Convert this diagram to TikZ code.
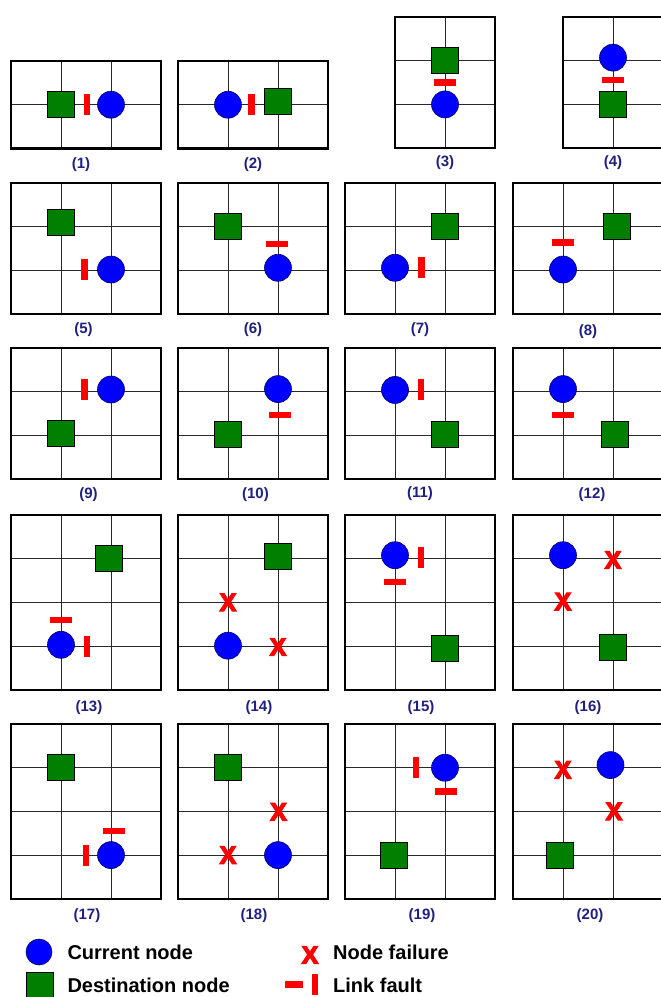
\documentclass[tikz,border=0pt]{standalone}
\usepackage{fontspec}
\setmainfont{Liberation Sans}
\newfontfamily\failfont{Liberation Sans Bold}[FakeBold=5]
\usetikzlibrary{positioning}
\definecolor{nodeblue}{HTML}{0000FF}
\definecolor{destgreen}{HTML}{007F00}
\definecolor{faultred}{HTML}{FF0000}
\definecolor{labelnavy}{HTML}{202080}
\definecolor{gridgray}{HTML}{2A2A2A}

\begin{document}
\begin{tikzpicture}[
    x=1pt, y=-1pt,
    panel/.style={draw=black, line width=2.4pt},
    gridln/.style={draw=gridgray, line width=0.9pt},
    cur/.style={circle, draw=black!60!blue, line width=0.6pt, fill=nodeblue,
      minimum size=27pt, inner sep=0pt},
    dest/.style={rectangle, draw=black, line width=0.6pt, fill=destgreen,
      minimum width=27pt, minimum height=26pt, inner sep=0pt},
    vfault/.style={rectangle, fill=faultred, minimum width=6.5pt, minimum height=21pt, inner sep=0pt},
    hfault/.style={rectangle, fill=faultred, minimum width=22pt, minimum height=6.5pt, inner sep=0pt},
    nfail/.style={text=faultred, font=\failfont\fontsize{25}{25}\selectfont, inner sep=0pt},
    num/.style={font=\bfseries\fontsize{15}{15}\selectfont, text=labelnavy, inner sep=0pt},
    legtext/.style={font=\bfseries\fontsize{20}{20}\selectfont, anchor=west, inner sep=0pt},
  ]
  \useasboundingbox (0,0) rectangle (661,997);

  % =================== ROW 1 ===================
  % (1)
  \begin{scope}[shift={(11,61)}, x=50pt, y=-43.7pt]
    \draw[gridln] (1,0) -- (1,2) (2,0) -- (2,2) (0,1) -- (3,1);
    \draw[panel] (0,0) rectangle (3,2);
    \node[dest] (d1) at (1,1) {};
    \node[vfault] (lf1) at (1.52,1) {};
    \node[cur] (c1) at (2,1) {};
    \node[num] (n1) at (1.4,2.38) {(1)};
  \end{scope}
  % (2)
  \begin{scope}[shift={(178,61)}, x=50pt, y=-43.7pt]
    \draw[gridln] (1,0) -- (1,2) (2,0) -- (2,2) (0,1) -- (3,1);
    \draw[panel] (0,0) rectangle (3,2);
    \node[cur] (c2) at (1,1) {};
    \node[vfault] (lf2) at (1.47,1) {};
    \node[dest] (d2) at (2,0.93) {};
    \node[num] (n2) at (1.5,2.38) {(2)};
  \end{scope}
  % (3)
  \begin{scope}[shift={(395,17)}, x=50pt, y=-43.7pt]
    \draw[gridln] (1,0) -- (1,3) (0,1) -- (2,1) (0,2) -- (2,2);
    \draw[panel] (0,0) rectangle (2,3);
    \node[dest] (d3) at (1,0.98) {};
    \node[hfault] (lf3) at (1,1.5) {};
    \node[cur] (c3) at (1,2) {};
    \node[num] (n3) at (1,3.34) {(3)};
  \end{scope}
  % (4)
  \begin{scope}[shift={(563,17)}, x=50pt, y=-43.7pt]
    \draw[gridln] (1,0) -- (1,3) (0,1) -- (2,1) (0,2) -- (2,2);
    \draw[panel] (0,0) rectangle (2,3);
    \node[cur] (c4) at (1,0.93) {};
    \node[hfault] (lf4) at (1,1.44) {};
    \node[dest] (d4) at (1,2) {};
    \node[num] (n4) at (1,3.34) {(4)};
  \end{scope}

  % =================== ROW 2 ===================
  % (5)
  \begin{scope}[shift={(11,183)}, x=50pt, y=-43.7pt]
    \draw[gridln] (1,0) -- (1,3) (2,0) -- (2,3) (0,1) -- (3,1) (0,2) -- (3,2);
    \draw[panel] (0,0) rectangle (3,3);
    \node[dest] (d5) at (1,0.9) {};
    \node[vfault] (lf5) at (1.47,1.98) {};
    \node[cur] (c5) at (2,1.98) {};
    \node[num] (n5) at (1.45,3.36) {(5)};
  \end{scope}
  % (6)
  \begin{scope}[shift={(178,183)}, x=50pt, y=-43.7pt]
    \draw[gridln] (1,0) -- (1,3) (2,0) -- (2,3) (0,1) -- (3,1) (0,2) -- (3,2);
    \draw[panel] (0,0) rectangle (3,3);
    \node[dest] (d6) at (1,1) {};
    \node[hfault] (lf6) at (1.98,1.4) {};
    \node[cur] (c6) at (2,1.94) {};
    \node[num] (n6) at (1.5,3.36) {(6)};
  \end{scope}
  % (7)
  \begin{scope}[shift={(345,183)}, x=50pt, y=-43.7pt]
    \draw[gridln] (1,0) -- (1,3) (2,0) -- (2,3) (0,1) -- (3,1) (0,2) -- (3,2);
    \draw[panel] (0,0) rectangle (3,3);
    \node[cur] (c7) at (1,1.94) {};
    \node[vfault] (lf7) at (1.53,1.94) {};
    \node[dest] (d7) at (2,0.98) {};
    \node[num] (n7) at (1.5,3.36) {(7)};
  \end{scope}
  % (8)
  \begin{scope}[shift={(513,183)}, x=50pt, y=-43.7pt]
    \draw[gridln] (1,0) -- (1,3) (2,0) -- (2,3) (0,1) -- (3,1) (0,2) -- (3,2);
    \draw[panel] (0,0) rectangle (3,3);
    \node[cur] (c8) at (1,1.98) {};
    \node[hfault] (lf8) at (1,1.36) {};
    \node[dest] (d8) at (2.08,1) {};
    \node[num] (n8) at (1.5,3.4) {(8)};
  \end{scope}

  % =================== ROW 3 ===================
  % (9)
  \begin{scope}[shift={(11,348)}, x=50pt, y=-43.7pt]
    \draw[gridln] (1,0) -- (1,3) (2,0) -- (2,3) (0,1) -- (3,1) (0,2) -- (3,2);
    \draw[panel] (0,0) rectangle (3,3);
    \node[cur] (c9) at (2,0.95) {};
    \node[vfault] (lf9) at (1.47,0.95) {};
    \node[dest] (d9) at (1,1.95) {};
    \node[num] (n9) at (1.55,3.36) {(9)};
  \end{scope}
  % (10)
  \begin{scope}[shift={(178,348)}, x=50pt, y=-43.7pt]
    \draw[gridln] (1,0) -- (1,3) (2,0) -- (2,3) (0,1) -- (3,1) (0,2) -- (3,2);
    \draw[panel] (0,0) rectangle (3,3);
    \node[cur] (c10) at (2,0.94) {};
    \node[hfault] (lf10) at (2.04,1.53) {};
    \node[dest] (d10) at (1,1.98) {};
    \node[num] (n10) at (1.55,3.36) {(10)};
  \end{scope}
  % (11)
  \begin{scope}[shift={(345,348)}, x=50pt, y=-43.7pt]
    \draw[gridln] (1,0) -- (1,3) (2,0) -- (2,3) (0,1) -- (3,1) (0,2) -- (3,2);
    \draw[panel] (0,0) rectangle (3,3);
    \node[cur] (c11) at (1,0.96) {};
    \node[vfault] (lf11) at (1.52,0.96) {};
    \node[dest] (d11) at (2,1.98) {};
    \node[num] (n11) at (1.5,3.33) {(11)};
  \end{scope}
  % (12)
  \begin{scope}[shift={(513,348)}, x=50pt, y=-43.7pt]
    \draw[gridln] (1,0) -- (1,3) (2,0) -- (2,3) (0,1) -- (3,1) (0,2) -- (3,2);
    \draw[panel] (0,0) rectangle (3,3);
    \node[cur] (c12) at (1,0.94) {};
    \node[hfault] (lf12) at (1,1.53) {};
    \node[dest] (d12) at (2.03,1.98) {};
    \node[num] (n12) at (1.58,3.36) {(12)};
  \end{scope}

  % =================== ROW 4 ===================
  % (13)
  \begin{scope}[shift={(11,515)}, x=50pt, y=-43.7pt]
    \draw[gridln] (1,0) -- (1,4) (2,0) -- (2,4) (0,1) -- (3,1) (0,2) -- (3,2) (0,3) -- (3,3);
    \draw[panel] (0,0) rectangle (3,4);
    \node[dest] (d13) at (1.96,0.99) {};
    \node[hfault] (lf13a) at (1,2.4) {};
    \node[cur] (c13) at (1,2.97) {};
    \node[vfault] (lf13b) at (1.52,3) {};
    \node[num] (n13) at (1.56,4.41) {(13)};
  \end{scope}
  % (14)
  \begin{scope}[shift={(178,515)}, x=50pt, y=-43.7pt]
    \draw[gridln] (1,0) -- (1,4) (2,0) -- (2,4) (0,1) -- (3,1) (0,2) -- (3,2) (0,3) -- (3,3);
    \draw[panel] (0,0) rectangle (3,4);
    \node[dest] (d14) at (2,0.94) {};
    \node[nfail] (x14a) at (1,2) {X};
    \node[cur] (c14) at (1,2.99) {};
    \node[nfail] (x14b) at (2,3.02) {X};
    \node[num] (n14) at (1.62,4.41) {(14)};
  \end{scope}
  % (15)
  \begin{scope}[shift={(345,515)}, x=50pt, y=-43.7pt]
    \draw[gridln] (1,0) -- (1,4) (2,0) -- (2,4) (0,1) -- (3,1) (0,2) -- (3,2) (0,3) -- (3,3);
    \draw[panel] (0,0) rectangle (3,4);
    \node[cur] (c15) at (1,0.92) {};
    \node[vfault] (lf15a) at (1.52,0.98) {};
    \node[hfault] (lf15b) at (1,1.53) {};
    \node[dest] (d15) at (2,3.06) {};
    \node[num] (n15) at (1.52,4.41) {(15)};
  \end{scope}
  % (16)
  \begin{scope}[shift={(513,515)}, x=50pt, y=-43.7pt]
    \draw[gridln] (1,0) -- (1,4) (2,0) -- (2,4) (0,1) -- (3,1) (0,2) -- (3,2) (0,3) -- (3,3);
    \draw[panel] (0,0) rectangle (3,4);
    \node[cur] (c16) at (1,0.92) {};
    \node[nfail] (x16a) at (2,1.03) {X};
    \node[nfail] (x16b) at (1,1.98) {X};
    \node[dest] (d16) at (2,3.03) {};
    \node[num] (n16) at (1.5,4.41) {(16)};
  \end{scope}

  % =================== ROW 5 ===================
  % (17)
  \begin{scope}[shift={(11,724)}, x=50pt, y=-43.7pt]
    \draw[gridln] (1,0) -- (1,4) (2,0) -- (2,4) (0,1) -- (3,1) (0,2) -- (3,2) (0,3) -- (3,3);
    \draw[panel] (0,0) rectangle (3,4);
    \node[dest] (d17) at (1,0.99) {};
    \node[hfault] (lf17a) at (2.06,2.45) {};
    \node[vfault] (lf17b) at (1.5,3) {};
    \node[cur] (c17) at (2,3) {};
    \node[num] (n17) at (1.52,4.38) {(17)};
  \end{scope}
  % (18)
  \begin{scope}[shift={(178,724)}, x=50pt, y=-43.7pt]
    \draw[gridln] (1,0) -- (1,4) (2,0) -- (2,4) (0,1) -- (3,1) (0,2) -- (3,2) (0,3) -- (3,3);
    \draw[panel] (0,0) rectangle (3,4);
    \node[dest] (d18) at (1,0.99) {};
    \node[nfail] (x18a) at (2.01,2.01) {X};
    \node[nfail] (x18b) at (1,3) {X};
    \node[cur] (c18) at (2,3) {};
    \node[num] (n18) at (1.52,4.38) {(18)};
  \end{scope}
  % (19)
  \begin{scope}[shift={(345,724)}, x=50pt, y=-43.7pt]
    \draw[gridln] (1,0) -- (1,4) (2,0) -- (2,4) (0,1) -- (3,1) (0,2) -- (3,2) (0,3) -- (3,3);
    \draw[panel] (0,0) rectangle (3,4);
    \node[cur] (c19) at (2,1) {};
    \node[vfault] (lf19a) at (1.42,1) {};
    \node[hfault] (lf19b) at (2.02,1.55) {};
    \node[dest] (d19) at (0.97,3) {};
    \node[num] (n19) at (1.54,4.38) {(19)};
  \end{scope}
  % (20)
  \begin{scope}[shift={(513,724)}, x=50pt, y=-43.7pt]
    \draw[gridln] (1,0) -- (1,4) (2,0) -- (2,4) (0,1) -- (3,1) (0,2) -- (3,2) (0,3) -- (3,3);
    \draw[panel] (0,0) rectangle (3,4);
    \node[nfail] (x20a) at (1,1.05) {X};
    \node[cur] (c20) at (1.95,0.94) {};
    \node[nfail] (x20b) at (2.02,2) {X};
    \node[dest] (d20) at (0.94,3) {};
    \node[num] (n20) at (1.54,4.38) {(20)};
  \end{scope}

  % =================== LEGEND ===================
  \node[cur, minimum size=26pt] (lc) at (39,952) {};
  \node[legtext, right=15pt of lc] (lct) {Current node};
  \node[dest] (ld) at (40,985) {};
  \node[legtext, right=13.5pt of ld] (ldt) {Destination node};
  \node[nfail] (lx) at (310,955) {X};
  \node[legtext] (lxt) at (333,952) {Node failure};
  \node[hfault, minimum width=18.5pt] (lh) at (294,984.5) {};
  \node[vfault] (lv) at (315,984) {};
  \node[legtext] (lvt) at (333,985) {Link fault};

\end{tikzpicture}
\end{document}
